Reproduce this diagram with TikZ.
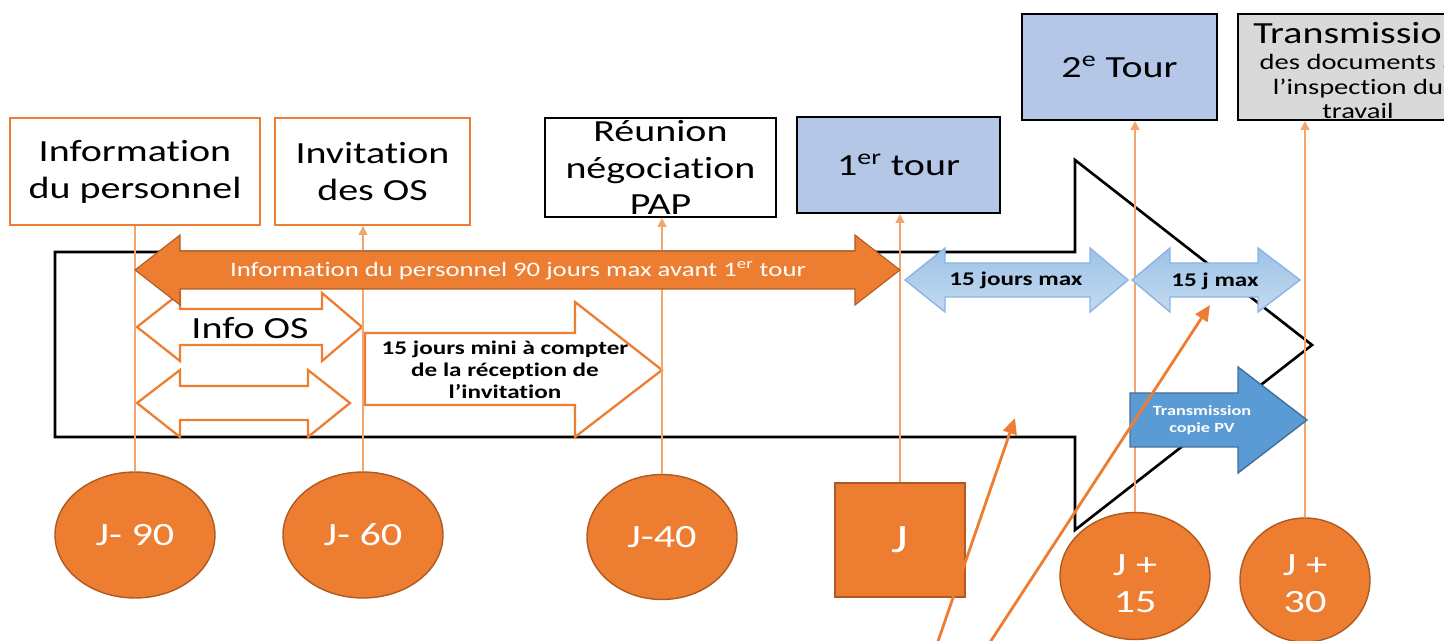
\documentclass[tikz,border=0pt]{standalone}
\usepackage{fontspec}
\setmainfont{Carlito}[FakeStretch=1.3, Ligatures=NoCommon]
\usetikzlibrary{shapes.geometric,arrows.meta}

\definecolor{orangeJ}{HTML}{ED7D31}
\definecolor{orangeDark}{HTML}{AE5A21}
\definecolor{orangeLight}{HTML}{F4A46E}
\definecolor{blueBox}{HTML}{B4C7E7}
\definecolor{greyBox}{HTML}{D9D9D9}
\definecolor{blueTop}{HTML}{9DC3E6}
\definecolor{blueBottom}{HTML}{C3DAF0}
\definecolor{blueEdge}{HTML}{8DB3E2}
\definecolor{blueDark}{HTML}{5B9BD5}
\definecolor{blueDarkEdge}{HTML}{41719C}

\tikzset{
  grostexte/.style={font=\fontsize{17.5}{21}\selectfont},
  petitgras/.style={font=\bfseries\fontsize{11}{12.5}\selectfont},
  cadre/.style={grostexte, draw, line width=1.2pt, align=center, inner sep=0pt},
  jalon/.style={ellipse, font=\fontsize{18.5}{21}\selectfont, fill=orangeJ, draw=orangeDark,
    line width=0.8pt, text=white, align=center, inner sep=0pt},
  flecheblanche/.style={draw=orangeJ, fill=white, line width=1.3pt, line join=miter},
  flechebleue/.style={top color=blueTop, bottom color=blueBottom, draw=blueEdge, line width=0.8pt},
  repere/.style={draw=orangeLight, line width=0.9pt},
  repereflèche/.style={repere, -{Triangle[length=5pt,width=5pt]}},
  renvoi/.style={draw=orangeJ, line width=1.6pt, -{Triangle[length=9pt,width=8pt]}}
}

\begin{document}
\begin{tikzpicture}[x=0.02cm,y=-0.02cm]
\useasboundingbox (0,0) rectangle (1444,641);
%%% contour de la grande fleche
\draw[line width=1.5pt, line join=miter] (55,252) -- (1075,252) -- (1075,160) -- (1312,345)
  -- (1075,530) -- (1075,437) -- (55,437) -- cycle;

%%% fleches blanches
\draw[flecheblanche] (137,327) -- (180,293) -- (180,309) -- (322,309) -- (322,293) -- (362,327)
  -- (322,361) -- (322,345) -- (180,345) -- (180,361) -- cycle;
\node[grostexte] (infoOS) at (250,328) {Info OS};
\draw[flecheblanche] (137,403) -- (180,370) -- (180,386) -- (308,386) -- (308,370) -- (350,403)
  -- (308,437) -- (308,420) -- (180,420) -- (180,437) -- cycle;
\draw[flecheblanche] (365,333) -- (575,333) -- (575,302) -- (662,370) -- (575,437) -- (575,405)
  -- (365,405) -- cycle;
\node[petitgras, align=center] (delai) at (505,370) {15 jours mini à compter\\de la réception de\\l’invitation};

%%% les etapes
\node[cadre, draw=orangeJ, minimum width=5cm, minimum height=2.14cm] (infoperso) at (135,171.5)
  {Information\\du personnel};
\node[cadre, draw=orangeJ, minimum width=3.9cm, minimum height=2.14cm] (invit) at (372.5,171.5)
  {Invitation\\des OS};
\node[cadre, minimum width=4.62cm, minimum height=1.98cm] (reunion) at (660.5,167.5)
  {Réunion\\négociation\\PAP};
\node[cadre, fill=blueBox, minimum width=4.06cm, minimum height=1.92cm] (tour1) at (898.5,165)
  {1\textsuperscript{er} tour};
\node[cadre, fill=blueBox, minimum width=3.9cm, minimum height=2.12cm] (tour2) at (1119.5,67)
  {2\textsuperscript{e} Tour};
\node[cadre, fill=greyBox, minimum width=4.88cm, minimum height=2.12cm] (transm) at (1360,67) {};
\node[anchor=north, align=center, font=\fontsize{12.5}{14}\selectfont] (transmtxt) at (1358,16)
  {{\fontsize{17.5}{19}\selectfont Transmission}\\[1pt] des documents à\\ l’inspection du\\ travail};

%%% les jalons
\node[jalon, minimum width=3.2cm, minimum height=2.52cm] (j90) at (135,535) {J- 90};
\node[jalon, minimum width=3.2cm, minimum height=2.52cm] (j60) at (363,535) {J- 60};
\node[jalon, minimum width=3cm, minimum height=2.5cm] (j40) at (662,537) {J-40};
\node[fill=orangeJ, draw=orangeDark, line width=0.8pt, text=white,
  minimum width=2.6cm, minimum height=2.28cm] (j) at (900,540) {\fontsize{23}{24}\selectfont J};
\node[jalon, minimum width=3cm, minimum height=2.54cm] (j15) at (1135,576) {\\[0pt]J +\\15};
\node[jalon, minimum width=2.6cm, minimum height=2.48cm] (j30) at (1305,580) {\\[-5pt]J +\\30};

%%% liens jalon - etape
\draw[repere] (j90.north) -- (infoperso.south);
\draw[repereflèche] (j60.north) -- (j60.north |- invit.south);
\draw[repereflèche] (j40.north) -- (j40.north |- reunion.south);
\draw[repereflèche] (j.north) -- (j.north |- tour1.south);
\draw[repereflèche] (j15.north) -- (j15.north |- tour2.south);
\draw[repereflèche] (j30.north) -- (j30.north |- transm.south);

%%% fleche orange
\draw[fill=orangeJ, draw=orangeDark, line width=0.6pt, line join=miter] (135,270) -- (180,235)
  -- (180,251) -- (855,251) -- (855,235) -- (900,270) -- (855,305) -- (855,289) -- (180,289)
  -- (180,305) -- cycle;
\node[text=white, font=\fontsize{11.7}{13}\selectfont] (perso90) at (518,271)
  {Information du personnel 90 jours max avant 1\textsuperscript{er} tour};

%%% fleches bleues
\shade[flechebleue] (905,280) -- (945,248) -- (945,263) -- (1090,263) -- (1090,248) -- (1128,280)
  -- (1090,312) -- (1090,297) -- (945,297) -- (945,312) -- cycle;
\node[petitgras] (quinzeA) at (1016,280) {15 jours max};
\shade[flechebleue] (1132,280) -- (1170,248) -- (1170,263) -- (1258,263) -- (1258,248) -- (1300,280)
  -- (1258,312) -- (1258,297) -- (1170,297) -- (1170,312) -- cycle;
\node[petitgras] (quinzeB) at (1215,281) {15 j max};
\draw[fill=blueDark, draw=blueDarkEdge, line width=0.8pt] (1130,393) -- (1238,393) -- (1238,367)
  -- (1307,420) -- (1238,473) -- (1238,447) -- (1130,447) -- cycle;
\node[text=white, align=center, font=\bfseries\fontsize{8}{9.5}\selectfont] (copiePV) at (1202,420)
  {Transmission\\copie PV};

%%% fleches de renvoi
\coordinate (depart1) at (935,650);
\coordinate (cible1) at (1015,418);
\coordinate (depart2) at (985,650);
\coordinate (cible2) at (1210,305);
\draw[renvoi] (depart1) -- (cible1);
\draw[renvoi] (depart2) -- (cible2);
\end{tikzpicture}
\end{document}
